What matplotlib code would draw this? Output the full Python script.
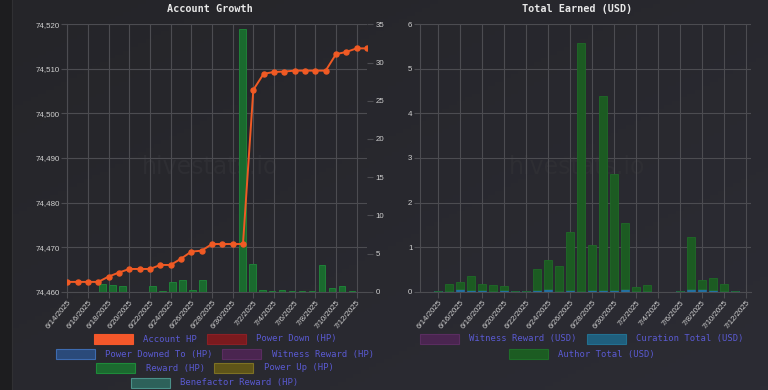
import matplotlib
matplotlib.use("Agg")
from matplotlib import pyplot as plt
import matplotlib.patches as mpatches
from matplotlib.ticker import FuncFormatter, MultipleLocator
import numpy as np


dates = ['6/14/2025', '6/15/2025', '6/16/2025', '6/17/2025', '6/18/2025',
         '6/19/2025', '6/20/2025', '6/21/2025', '6/22/2025', '6/23/2025',
         '6/24/2025', '6/25/2025', '6/26/2025', '6/27/2025', '6/28/2025',
         '6/29/2025', '6/30/2025', '7/1/2025', '7/2/2025', '7/3/2025',
         '7/4/2025', '7/5/2025', '7/6/2025', '7/7/2025', '7/8/2025',
         '7/9/2025', '7/10/2025', '7/11/2025', '7/12/2025', '7/13/2025']

# Account growth (left chart)
account_hp = [74462.2, 74462.2, 74462.2, 74462.2, 74463.4, 74464.3, 74465.1,
              74465.1, 74465.1, 74466.0, 74466.0, 74467.4, 74469.0, 74469.2,
              74470.7, 74470.7, 74470.7, 74470.7, 74505.3, 74508.9, 74509.3,
              74509.4, 74509.6, 74509.6, 74509.6, 74509.6, 74513.3, 74513.8,
              74514.6, 74514.6]
reward_hp = [0, 0, 0, 1.05, 0.83, 0.79, 0, 0, 0.74, 0.05, 1.27, 1.48, 0.26,
             1.53, 0, 0, 0, 34.4, 3.62, 0.26, 0.13, 0.17, 0.03, 0.03, 0.03,
             3.49, 0.44, 0.79, 0.05, 0]

# Total earned (right chart), 6/14 .. 7/12
curation_usd = [0.02, 0.01, 0.05, 0.04, 0.03, 0.01, 0.03, 0.01, 0.01, 0.04,
                0.06, 0.02, 0.03, 0.02, 0.04, 0.04, 0.04, 0.05, 0.01, 0.01,
                0, 0, 0.01, 0.05, 0.05, 0.04, 0.01, 0.01, 0]
author_usd = [0, 0.17, 0.17, 0.31, 0.15, 0.13, 0.10, 0, 0, 0.47,
              0.65, 0.56, 1.31, 5.55, 1.01, 4.35, 2.59, 1.49, 0.09, 0.14,
              0, 0, 0, 1.18, 0.22, 0.27, 0.16, 0, 0]

BG = '#27272b'
GRID = '#4c4c51'
TICK = '#d0d0d0'
LEGEND_TXT = '#5a5ad2'
SANS = 'Liberation Sans'
MONO = 'DejaVu Sans Mono'

W, H = 768, 390
fig = plt.figure(figsize=(W / 100, H / 100), dpi=100, facecolor=BG)


def rect(x0, y0, x1, y1):
    # pixel box (top-left origin) -> figure fraction rect
    return [x0 / W, 1 - y1 / H, (x1 - x0) / W, (y1 - y0) / H]


# background: darker strip on the left, slight gradient elsewhere
bg = fig.add_axes([0, 0, 1, 1], zorder=-10)
grad = np.linspace(0, 1, 200)[None, :] * 0.5 + np.linspace(0, 1, 100)[:, None] * 0.5
bg.imshow(grad, cmap=matplotlib.colors.LinearSegmentedColormap.from_list(
    'bg', ['#252529', '#2c2c34']), aspect='auto', extent=[0, 1, 0, 1], origin='upper')
bg.add_patch(mpatches.Rectangle((0, 0), 11 / W, 1, color='#1d1d1f'))
bg.axvline(11.5 / W, color='#303033', lw=0.8)
bg.set_xlim(0, 1)
bg.set_ylim(0, 1)
bg.axis('off')


def style_axis(ax):
    ax.set_facecolor('none')
    for s in ['top', 'right']:
        ax.spines[s].set_visible(False)
    for s in ['left', 'bottom']:
        ax.spines[s].set_color(GRID)
        ax.spines[s].set_linewidth(0.8)
    ax.tick_params(colors=GRID, labelcolor=TICK, labelsize=5.7, length=4, width=0.8, pad=1.5)
    ax.grid(True, color=GRID, lw=0.8)


def date_ticks(ax, idx):
    ax.set_xticks(idx)
    ax.set_xticklabels([dates[i] for i in idx], rotation=50, ha='right', va='top',
                       rotation_mode='anchor', family=SANS, fontsize=5.7, color=TICK)


# ---------------- left chart ----------------
L = rect(67.3, 24.3, 367, 291.7)
ax = fig.add_axes(L, zorder=1)
style_axis(ax)
ax.set_xlim(0, len(dates) - 1)
ax.set_ylim(74460, 74520)
ax.yaxis.set_major_locator(MultipleLocator(10))
ax.yaxis.set_major_formatter(FuncFormatter(lambda v, p: f'{v:,.0f}'))
for lab in ax.get_yticklabels():
    lab.set_family(SANS)
date_ticks(ax, list(range(0, len(dates) - 1, 2)))

axb = fig.add_axes(L, zorder=2)
axb.set_facecolor('none')
xb = np.arange(len(reward_hp))
axb.bar(xb, reward_hp, width=0.68, color='#1a6a2e', edgecolor='#1f8038', lw=0.7)
axb.set_xlim(-0.5, len(reward_hp) - 0.5)
axb.set_ylim(0, 35)
axb.yaxis.tick_right()
axb.yaxis.set_major_locator(MultipleLocator(5))
axb.tick_params(axis='y', colors=GRID, labelcolor=TICK, labelsize=5.7, length=4, width=0.8, pad=2)
axb.set_xticks([])
for lab in axb.get_yticklabels():
    lab.set_family(SANS)
for s in axb.spines.values():
    s.set_visible(False)

axl = fig.add_axes(L, zorder=3)
axl.set_facecolor('none')
axl.plot(np.arange(len(account_hp)), account_hp, color='#f05a24', lw=1.4,
         marker='o', ms=3.6, mec='#f05a24', mfc='#f05a24')
axl.set_xlim(0, len(account_hp) - 1)
axl.set_ylim(74460, 74520)
axl.axis('off')

fig.text(210 / W, 1 - 9.5 / H, 'Account Growth', ha='center', va='center',
         family=MONO, weight='bold', fontsize=7.3, color='#e8e8e8')
fig.text(210 / W, 1 - 167 / H, 'hivestats.io', ha='center', va='center',
         family='DejaVu Sans', fontsize=17, color='#2e2e33', zorder=0)

# ---------------- right chart ----------------
R = rect(420, 24.3, 750.7, 291.7)
ar = fig.add_axes(R, zorder=1)
style_axis(ar)
xr = np.arange(len(author_usd))
ar.bar(xr, curation_usd, width=0.7, color='#2470a0', edgecolor='#2470a0', lw=0.5, zorder=3)
ar.bar(xr, author_usd, bottom=curation_usd, width=0.7, color='#1c5b22',
       edgecolor='#1f6a27', lw=0.6, zorder=3)
ar.set_xlim(-1.64, 28.43)
ar.set_ylim(0, 6)
ar.yaxis.set_major_locator(MultipleLocator(1))
for lab in ar.get_yticklabels():
    lab.set_family(SANS)
date_ticks(ar, list(range(0, len(author_usd), 2)))

fig.text(577 / W, 1 - 9.5 / H, 'Total Earned (USD)', ha='center', va='center',
         family=MONO, weight='bold', fontsize=7.3, color='#e8e8e8')
fig.text(577 / W, 1 - 167 / H, 'hivestats.io', ha='center', va='center',
         family='DejaVu Sans', fontsize=17, color='#2e2e33', zorder=0)

# ---------------- legends ----------------
legend_items = [
    # box left x, row y, fill, edge, label, text x
    (94, 339, '#f4572a', '#f4572a', 'Account HP', 143),
    (207, 339, '#7b1a1e', '#8a2026', 'Power Down (HP)', 256),
    (56, 354, '#2a4a7a', '#3d6bb0', 'Power Downed To (HP)', 105),
    (222, 354, '#4a2550', '#5a2d60', 'Witness Reward (HP)', 272),
    (96, 368, '#1b6a2f', '#1e8a3a', 'Reward (HP)', 146),
    (214, 368, '#5e5418', '#7d7124', 'Power Up (HP)', 264),
    (131, 383, '#2d615a', '#4a9088', 'Benefactor Reward (HP)', 180),
    (420, 339, '#4a2550', '#5a2d60', 'Witness Reward (USD)', 469),
    (587, 339, '#1f5f7d', '#227090', 'Curation Total (USD)', 636),
    (509, 354, '#1c5c22', '#1e6e28', 'Author Total (USD)', 558),
]
for bx, by, fc, ec, label, tx in legend_items:
    fig.add_artist(mpatches.Rectangle((bx / W, 1 - (by + 4.7) / H), 39 / W, 9.4 / H,
                                      transform=fig.transFigure, facecolor=fc,
                                      edgecolor=ec, lw=0.8))
    fig.text(tx / W, 1 - by / H, label, ha='left', va='center', family=MONO,
             fontsize=6.4, color=LEGEND_TXT)

fig.savefig('out.png', dpi=100, facecolor=BG)
